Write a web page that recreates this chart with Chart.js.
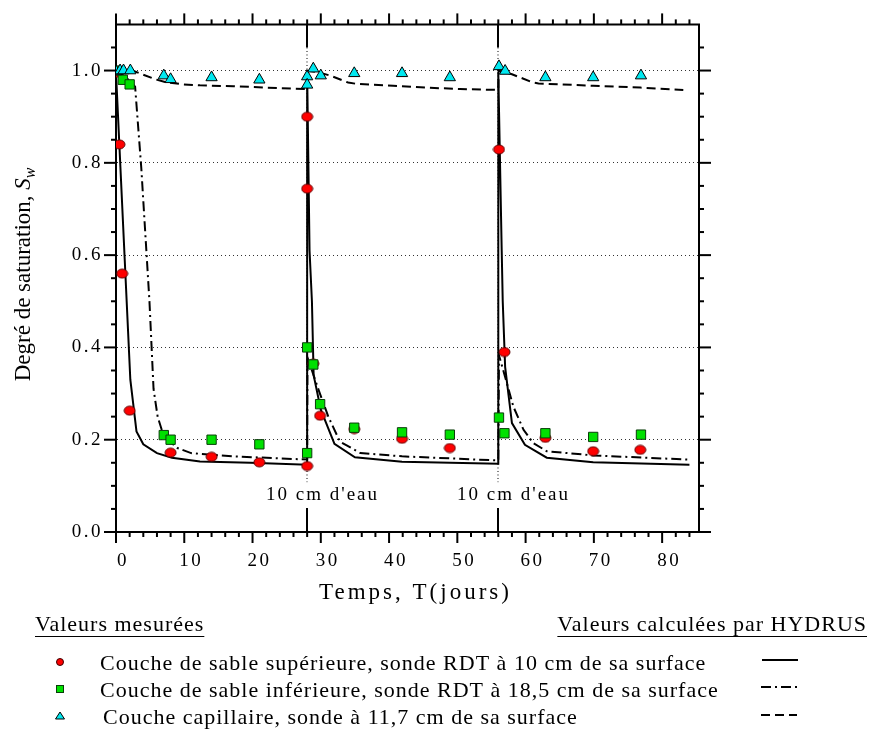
<!DOCTYPE html>
<html lang="fr">
<head>
<meta charset="utf-8">
<title>Degré de saturation</title>
<script src="https://cdn.jsdelivr.net/npm/chart.js"></script>
<style>
  html, body { margin: 0; padding: 0; background: #fff; }
  #contenedor { width: 869px; height: 738px; position: relative; }
</style>
</head>
<body>
<div id="contenedor"><canvas id="grafica"></canvas></div>
<script>
const SERIF = "'Liberation Serif', 'Times New Roman', serif";

// Valeurs mesurées : temps (jours) et degré de saturation
const supT = [0, 0.5, 0.9, 2.0, 8.0, 14.0, 21.0, 28.0, 28.0, 28.0, 28.9, 29.9, 34.9, 41.9, 48.9, 56.1, 56.9, 62.9, 69.9, 76.8];
const supS = [0.995, 0.84, 0.56, 0.263, 0.172, 0.163, 0.151, 0.143, 0.90, 0.744, 0.365, 0.252, 0.223, 0.202, 0.182, 0.829, 0.39, 0.204, 0.175, 0.178];

const infT = [0, 1.0, 2.0, 7.0, 8.0, 14.0, 21.0, 28.0, 28.0, 28.9, 29.9, 34.9, 41.9, 48.9, 56.1, 56.9, 62.9, 69.9, 76.9];
const infS = [1.0, 0.98, 0.97, 0.21, 0.20, 0.20, 0.19, 0.171, 0.40, 0.363, 0.277, 0.226, 0.216, 0.211, 0.248, 0.214, 0.214, 0.206, 0.211];

const capT = [0, 0.6, 1.1, 2.1, 7.0, 8.0, 14.0, 21.0, 28.0, 28.0, 28.9, 30.0, 34.9, 41.9, 48.9, 56.1, 57.0, 62.9, 69.9, 76.9];
const capS = [0.998, 1.0, 1.0, 1.0, 0.989, 0.981, 0.985, 0.98, 0.987, 0.969, 1.004, 0.989, 0.994, 0.994, 0.985, 1.009, 0.999, 0.985, 0.985, 0.989];

// Valeurs calculées par HYDRUS
const calcSupT = [0, 2.1, 3.0, 4.0, 6.0, 8.2, 12.3, 19.7, 28.0, 28.0, 28.35, 28.7, 28.95, 30.0, 32.0, 35.0, 41.9, 56.0, 56.0, 56.5, 56.65, 57.0, 58.0, 59.9, 63.1, 69.9, 84.0];
const calcSupS = [0.995, 0.33, 0.218, 0.19, 0.171, 0.161, 0.153, 0.15, 0.146, 0.995, 0.61, 0.50, 0.34, 0.265, 0.191, 0.162, 0.152, 0.148, 0.995, 0.61, 0.50, 0.358, 0.236, 0.189, 0.161, 0.151, 0.146];

const calcInfT = [0, 1.0, 2.0, 2.8, 3.7, 4.9, 5.5, 6.1, 7.0, 9.0, 11.0, 17.0, 28.0, 28.05, 29.7, 31.1, 32.8, 35.8, 41.9, 56.0, 56.1, 57.0, 58.2, 59.7, 61.1, 63.1, 69.9, 83.8];
const calcInfS = [1.0, 0.99, 0.978, 0.965, 0.79, 0.50, 0.31, 0.25, 0.207, 0.182, 0.171, 0.164, 0.157, 0.378, 0.307, 0.25, 0.196, 0.171, 0.164, 0.155, 0.383, 0.336, 0.272, 0.2215, 0.193, 0.175, 0.166, 0.157];

const calcCapT = [0, 2.6, 5.75, 7.5, 9.9, 12.3, 17.2, 22.1, 27.9, 28.0, 29.7, 31.4, 34.0, 35.3, 40.6, 45.5, 50.4, 56.0, 56.05, 58.0, 61.1, 61.9, 69.9, 76.8, 83.1];
const calcCapS = [1.0, 0.999, 0.981, 0.974, 0.97, 0.968, 0.966, 0.963, 0.96, 1.0, 0.996, 0.989, 0.974, 0.971, 0.967, 0.963, 0.96, 0.958, 1.0, 0.992, 0.974, 0.972, 0.967, 0.963, 0.958];

// Graduations
const xTicks = [0, 10, 20, 30, 40, 50, 60, 70, 80];
const yTicks = [0, 0.2, 0.4, 0.6, 0.8, 1.0];

// Ajouts d'eau
const ajoutsEau = [28, 56];
const ajoutTexte = "10 cm d'eau";

// Légende
const titreMesures = "Valeurs mesurées";
const titreCalcul = "Valeurs calculées par HYDRUS";
const legendeTextes = [
  "Couche de sable supérieure, sonde RDT à 10 cm de sa surface",
  "Couche de sable inférieure, sonde RDT à 18,5 cm de sa surface",
  "Couche capillaire, sonde à 11,7 cm de sa surface"
];

const pts = (t, s) => t.map((v, i) => ({ x: v, y: s[i] }));

// Point rouge légèrement aplati
function puntoRojo(w, h) {
  const c = document.createElement("canvas");
  c.width = w + 2;
  c.height = h + 2;
  const g = c.getContext("2d");
  g.beginPath();
  g.ellipse(c.width / 2, c.height / 2, w / 2, h / 2, 0, 0, Math.PI * 2);
  g.fillStyle = "#ff0000";
  g.fill();
  g.lineWidth = 1;
  g.strokeStyle = "#5a0000";
  g.stroke();
  return c;
}

function seg(ctx, x1, y1, x2, y2) {
  ctx.beginPath();
  ctx.moveTo(x1, y1);
  ctx.lineTo(x2, y2);
  ctx.stroke();
}

const cadre = {
  id: "cadre",
  beforeDraw(chart) {
    chart.ctx.letterSpacing = "2.5px";
  },
  beforeDatasetsDraw(chart) {
    const { ctx, chartArea: a, scales: { x, y } } = chart;
    ctx.save();
    ctx.strokeStyle = "#000";
    ctx.fillStyle = "#000";
    ajoutsEau.forEach(t => {
      const px = Math.round(x.getPixelForValue(t));
      ctx.lineWidth = 1;
      ctx.setLineDash([1, 2.5]);
      seg(ctx, px, y.getPixelForValue(1.05), px, y.getPixelForValue(0.108));
      ctx.setLineDash([]);
      ctx.lineWidth = 2;
      seg(ctx, px, a.top, px, y.getPixelForValue(1.05));
      seg(ctx, px, y.getPixelForValue(0.052), px, a.bottom);
      ctx.font = "19px " + SERIF;
      ctx.letterSpacing = "2px";
      ctx.textAlign = "left";
      ctx.textBaseline = "middle";
      ctx.fillText(ajoutTexte, px - 41, y.getPixelForValue(0.08));
    });
    ctx.restore();
  },
  afterDraw(chart) {
    const { ctx, chartArea: a, scales: { x, y } } = chart;
    ctx.save();
    ctx.strokeStyle = "#000";
    ctx.fillStyle = "#000";
    ctx.setLineDash([]);
    ctx.lineWidth = 2;
    ctx.beginPath();
    ctx.moveTo(a.left - 1, a.top);
    ctx.lineTo(a.right, a.top);
    ctx.lineTo(a.right, a.bottom + 1);
    ctx.stroke();

    // graduations majeures et mineures sur les quatre côtés
    for (let t = 0; t <= 84; t += 2) {
      const px = x.getPixelForValue(t);
      const len = t % 10 === 0 ? 11 : 5;
      seg(ctx, px, a.bottom, px, a.bottom + len);
      seg(ctx, px, a.top, px, a.top - len);
    }
    for (let k = 0; k <= 21; k++) {
      const py = y.getPixelForValue(k * 0.05);
      const len = k % 4 === 0 ? 12 : 5;
      seg(ctx, a.left - len, py, a.left, py);
      seg(ctx, a.right, py, a.right + len, py);
    }

    // titre de l'axe x
    ctx.font = "23px " + SERIF;
    ctx.letterSpacing = "3px";
    ctx.textAlign = "center";
    ctx.textBaseline = "middle";
    ctx.fillText("Temps, T(jours)", (a.left + a.right) / 2 + 8, a.bottom + 61);

    // titre de l'axe y avec S en italique et indice w
    ctx.save();
    ctx.translate(30, a.top + 250);
    ctx.rotate(-Math.PI / 2);
    ctx.letterSpacing = "0px";
    const base = "Degré de saturation, ";
    ctx.font = "23px " + SERIF;
    const w1 = ctx.measureText(base).width;
    ctx.font = "italic 23px " + SERIF;
    const w2 = ctx.measureText("S").width;
    ctx.font = "italic 16px " + SERIF;
    const w3 = ctx.measureText("w").width;
    let cx = -(w1 + w2 + w3) / 2;
    ctx.textAlign = "left";
    ctx.textBaseline = "alphabetic";
    ctx.font = "23px " + SERIF;
    ctx.fillText(base, cx, 0);
    cx += w1;
    ctx.font = "italic 23px " + SERIF;
    ctx.fillText("S", cx, 0);
    cx += w2;
    ctx.font = "italic 16px " + SERIF;
    ctx.fillText("w", cx, 5);
    ctx.restore();

    // légende
    ctx.font = "22px " + SERIF;
    ctx.letterSpacing = "1px";
    ctx.textBaseline = "middle";
    ctx.lineWidth = 1;
    ctx.textAlign = "left";
    const wm = ctx.measureText(titreMesures).width;
    ctx.fillText(titreMesures, 35, 625);
    seg(ctx, 35, 636.5, 35 + wm, 636.5);
    ctx.textAlign = "right";
    const wc = ctx.measureText(titreCalcul).width;
    ctx.fillText(titreCalcul, 867, 625);
    seg(ctx, 867 - wc, 636.5, 867, 636.5);

    const filas = [662, 689, 716];
    ctx.textAlign = "left";
    legendeTextes.forEach((txt, i) => {
      ctx.fillText(txt, i === 2 ? 103 : 100, filas[i] + 2);
    });

    // symboles
    ctx.lineWidth = 1;
    ctx.strokeStyle = "#3a0000";
    ctx.fillStyle = "#ff0000";
    ctx.beginPath();
    ctx.arc(60, filas[0], 3.5, 0, Math.PI * 2);
    ctx.fill();
    ctx.stroke();
    ctx.strokeStyle = "#0a3d0a";
    ctx.fillStyle = "#00e000";
    ctx.fillRect(56.5, filas[1] - 3.5, 7, 7);
    ctx.strokeRect(56.5, filas[1] - 3.5, 7, 7);
    ctx.strokeStyle = "#000";
    ctx.fillStyle = "#00e8f0";
    ctx.beginPath();
    ctx.moveTo(60, filas[2] - 4);
    ctx.lineTo(64.5, filas[2] + 3);
    ctx.lineTo(55.5, filas[2] + 3);
    ctx.closePath();
    ctx.fill();
    ctx.stroke();

    // traits des courbes
    ctx.strokeStyle = "#000";
    ctx.lineWidth = 2;
    ctx.setLineDash([]);
    seg(ctx, 762, filas[0] - 2, 798, filas[0] - 2);
    ctx.setLineDash([10, 4, 2, 4]);
    seg(ctx, 761, filas[1] - 2, 797, filas[1] - 2);
    ctx.setLineDash([9, 5]);
    seg(ctx, 761, filas[2] - 1, 797, filas[2] - 1);
    ctx.restore();
  }
};

const ctx = document.getElementById("grafica").getContext("2d");
const grafica = new Chart(ctx, {
  type: "scatter",
  data: {
    datasets: [
      {
        label: legendeTextes[2],
        data: pts(capT, capS),
        pointStyle: "triangle",
        pointRadius: 6.5,
        backgroundColor: "#00e8f0",
        borderColor: "#000",
        borderWidth: 1
      },
      {
        label: legendeTextes[1],
        data: pts(infT, infS),
        pointStyle: "rect",
        pointRadius: 6.6,
        backgroundColor: "#00e000",
        borderColor: "#0a3d0a",
        borderWidth: 1
      },
      {
        label: legendeTextes[0],
        data: pts(supT, supS),
        pointStyle: puntoRojo(11, 9),
        pointRadius: 5
      },
      {
        label: "HYDRUS supérieure",
        data: pts(calcSupT, calcSupS),
        showLine: true,
        pointRadius: 0,
        borderColor: "#000",
        borderWidth: 2,
        tension: 0
      },
      {
        label: "HYDRUS inférieure",
        data: pts(calcInfT, calcInfS),
        showLine: true,
        pointRadius: 0,
        borderColor: "#000",
        borderWidth: 2,
        borderDash: [10, 4, 2, 4],
        tension: 0
      },
      {
        label: "HYDRUS capillaire",
        data: pts(calcCapT, calcCapS),
        showLine: true,
        pointRadius: 0,
        borderColor: "#000",
        borderWidth: 2,
        borderDash: [9, 5],
        tension: 0
      }
    ]
  },
  options: {
    responsive: true,
    maintainAspectRatio: false,
    devicePixelRatio: 1,
    animation: false,
    events: [],
    layout: { padding: { left: 0, top: 22, right: 170, bottom: 156 } },
    plugins: { legend: { display: false }, tooltip: { enabled: false } },
    scales: {
      x: {
        type: "linear",
        min: 0,
        max: 85.4,
        afterFit: s => { s.height = 50; },
        afterBuildTicks: s => { s.ticks = xTicks.map(v => ({ value: v })); },
        grid: { display: false, drawTicks: false },
        border: { display: true, color: "#000", width: 2 },
        ticks: {
          color: "#000",
          font: { family: SERIF, size: 19 },
          padding: 18,
          labelOffset: 7,
          maxRotation: 0,
          autoSkip: false,
          callback: v => String(v)
        }
      },
      y: {
        type: "linear",
        min: 0,
        max: 1.1,
        afterFit: s => { s.width = 116; },
        afterBuildTicks: s => { s.ticks = yTicks.map(v => ({ value: v })); },
        grid: {
          drawTicks: false,
          lineWidth: 1,
          color: c => (c.tick && c.tick.value === 0 ? "rgba(0,0,0,0)" : "#333")
        },
        border: { color: "#000", width: 2, dash: [1, 3] },
        ticks: {
          color: "#000",
          font: { family: SERIF, size: 19 },
          padding: 13,
          autoSkip: false,
          callback: v => v.toFixed(1)
        }
      }
    }
  },
  plugins: [cadre]
});
</script>
</body>
</html>
